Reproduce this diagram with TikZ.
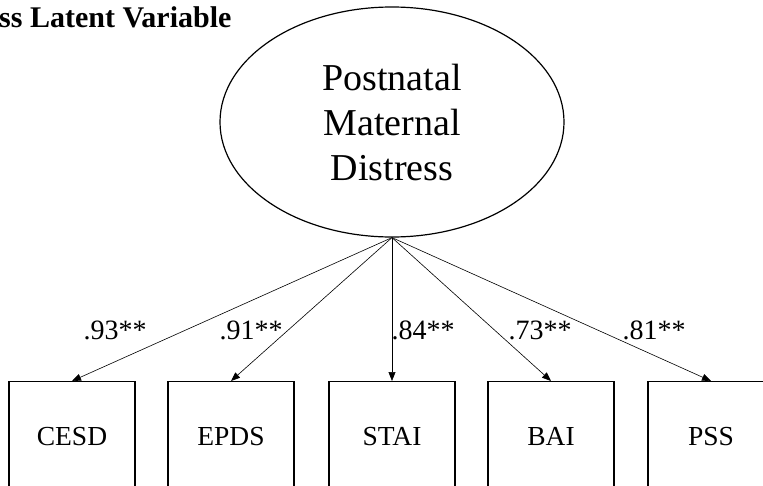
\documentclass[tikz,border=0pt]{standalone}
\usepackage{fontspec}
\setmainfont{Liberation Serif}
\usetikzlibrary{arrows.meta,shapes.geometric}
\tikzset{
  latent/.style={draw, line width=1.2pt, ellipse, minimum width=344pt, minimum height=230pt, inner sep=0pt,
    align=center, font=\fontsize{38}{45}\selectfont},
  indicator/.style={draw, line width=1.4pt, minimum width=126pt, minimum height=110pt, inner sep=0pt,
    font=\fontsize{27.5}{30}\selectfont},
  loading/.style={-{Triangle[length=9pt,width=7pt]}, line width=0.6pt},
  coef/.style={font=\fontsize{28}{30}\selectfont, inner sep=0pt},
}
\begin{document}
\begin{tikzpicture}[x=1pt,y=-1pt]
\useasboundingbox (0,0) rectangle (763,485);
\clip (0,0) rectangle (763,485);
\fill[white] (0,0) rectangle (763,485);

% title line, running past the left edge
\node[anchor=base west, inner sep=0pt, font=\bfseries\fontsize{30}{32}\selectfont] (title) at (-1,27) {ss Latent Variable};

% latent factor
\node[latent] (pmd) at (392,122) {Postnatal\\Maternal\\Distress};
\coordinate (apex) at (pmd.south);

% observed indicators
\node[indicator, anchor=north] (cesd) at (72,381) {CESD};
\node[indicator, anchor=north] (epds) at (231,381) {EPDS};
\node[indicator, anchor=north] (stai) at (392,381) {STAI};
\node[indicator, anchor=north] (bai)  at (551,381) {BAI};
\node[indicator, anchor=north] (pss)  at (711,381) {PSS};

% factor loadings
\draw[loading] (apex) -- (cesd.north);
\draw[loading] (apex) -- (epds.north);
\draw[loading] (apex) -- (stai.north);
\draw[loading] (apex) -- (bai.north);
\draw[loading] (apex) -- (pss.north);

\node[coef] (l1) at (115,330) {.93**};
\node[coef] (l2) at (251,330) {.91**};
\node[coef] (l3) at (423,330) {.84**};
\node[coef] (l4) at (540,330) {.73**};
\node[coef] (l5) at (654,330) {.81**};
\end{tikzpicture}
\end{document}
